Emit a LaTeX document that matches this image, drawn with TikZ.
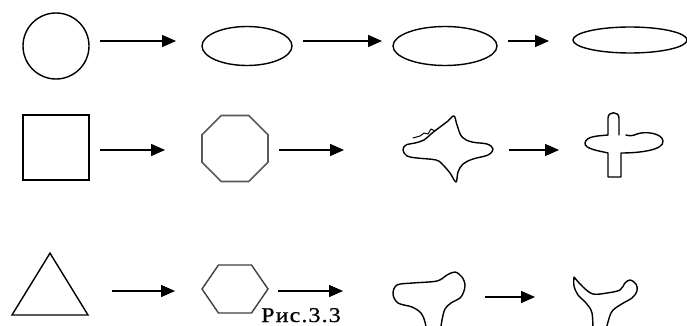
\documentclass[tikz,border=0pt]{standalone}
\usepackage{fontspec}
\setmainfont{Liberation Serif}
\usetikzlibrary{shapes.geometric,arrows.meta}
\begin{document}
\begin{tikzpicture}[x=1pt,y=-1pt]
    \tikzset{fig/.style = {draw=black,line width=1.4pt,inner sep=0pt,outer sep=0pt}, blob/.style = {line width=1.4pt,line join=round,line cap=round}, arr/.style = {line width=1.6pt,-{Triangle[length=14pt,width=12pt]}}}
    \useasboundingbox (0,0) rectangle (687,326);
    \clip (0,0) rectangle (687,326);
    % row 1: circle stretched into ellipses
    \node[fig,circle,minimum size=66pt] (circ) at (56,46){};
    \node[fig,ellipse,minimum width=90pt,minimum height=39pt] (ellA) at (247,46){};
    \node[fig,ellipse,minimum width=104pt,minimum height=39pt] (ellB) at (445,46){};
    \node[fig,ellipse,minimum width=114pt,minimum height=26pt] (ellC) at (630,40){};
    % row 2: square, octagon, blobs
    \node[fig,rectangle,minimum width=66pt,minimum height=65pt] (sq) at (56,147.5){};
    \node[fig,draw=black!65,line width=1.6pt,regular polygon,regular polygon sides=8,minimum size=71.4pt] (oct) at (235,148.5){};
    \coordinate (star) at (450,150);
    \draw[blob] plot[smooth cycle,tension=0.6] coordinates {(454,116) (457,125) (462,137) (472,142) (487,144) (493,149) (488,155) (473,159) (463,164) (458,172) (456,182) (450,173) (443,165) (436,160) (417,158) (407,156) (403,150) (406,145) (415,143) (424,140) (431,134) (440,127) (448,121)};
    \draw[blob,line width=1pt] (413,138) -- (420,136) -- (424,133) -- (428,134) -- (431,129) -- (435,131);
    \coordinate (cross) at (622,145);
    \draw[blob] (619,135) -- (619,118) .. controls (619,111) and (608,111) .. (608,118) -- (608,135)
        .. controls (598,136) and (586,136) .. (585,143) .. controls (584,149) and (600,151) .. (608,153)
        -- (608,177) -- (621,177) -- (621,153) .. controls (640,153) and (664,150) .. (663,141)
        .. controls (662,133) and (645,131) .. (637,134) .. controls (633,136) and (629,136) .. (626,135);
    % row 3: triangle, hexagon, blobs
    \begin{scope}[shift={(50,294.4)},yscale=0.94]
        \node[fig,regular polygon,regular polygon sides=3,minimum size=87.8pt,transform shape] (tri) at (0,0){};
    \end{scope}
    \begin{scope}[shift={(235,289)},yscale=0.84]
        \node[fig,draw=black!75,regular polygon,regular polygon sides=6,minimum size=66pt,transform shape] (hex) at (0,0){};
    \end{scope}
    \draw[blob] plot[smooth,tension=0.55] coordinates {(427,334) (425,322) (421,313) (412,307) (398,303) (393,294) (397,285) (413,283) (437,281) (447,275) (455,272) (462,277) (465,286) (461,297) (451,303) (445,309) (442,320) (440,334)};
    \draw[blob] plot[smooth,tension=0.55] coordinates {(593,334) (592,313) (586,303) (578,295) (574,286) (574,277)}
        -- plot[smooth,tension=0.55] coordinates {(574,277) (583,287) (593,294) (607,293) (620,290) (625,283) (630,280) (636,284) (637,291) (632,298) (620,305) (611,313) (605,334)};
    % arrows
    \foreach \xa/\xb/\yy [count=\i] in {100/176/41, 303/382/41, 508/549/41, 100/165/150, 279/344/150, 509/559/150, 112/175/291, 278/343/291, 485/535/297}
    {
        \coordinate (s\i) at (\xa,\yy);
        \coordinate (t\i) at (\xb,\yy);
        \draw[arr] (s\i) -- (t\i);
    }
    \node[anchor=base west,inner sep=0pt,font=\fontsize{21}{21}\selectfont\addfontfeature{FakeStretch=1.15,LetterSpace=5,FakeBold=0.6}] (cap) at (261,322){Рис.3.3};
\end{tikzpicture}
\end{document}
